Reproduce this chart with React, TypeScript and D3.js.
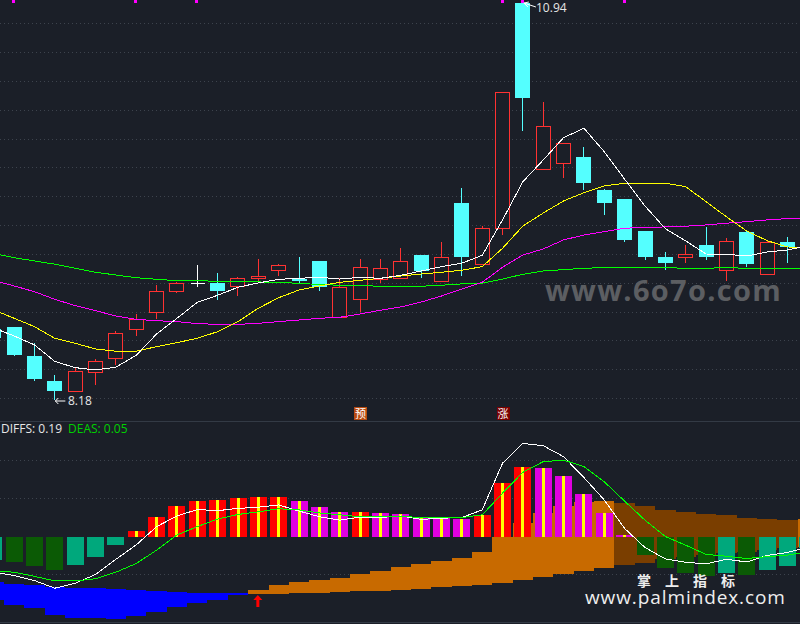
import * as d3 from 'd3';

const BG = '#1b1f28';
const FONT = '"Open Sans", "Noto Sans CJK SC", sans-serif';

// candles, one entry per session
const opens = [8.674, 8.688, 8.486, 8.312, 8.238, 8.37, 8.467, 8.669, 8.787, 8.933, 8.987, 8.994, 8.966, 9.028, 9.077, 9.023, 9.147, 8.755, 8.877, 9.019, 9.023, 9.188, 9.003, 9.55, 9.121, 9.374, 10.94, 9.784, 9.826, 9.87, 9.638, 9.575, 9.355, 9.172, 9.172, 9.258, 9.079, 9.346, 9.054, 9.277];
const closes = [8.613, 8.493, 8.326, 8.243, 8.38, 8.449, 8.644, 8.741, 8.936, 8.987, 8.987, 8.938, 9.026, 9.042, 9.117, 9.01, 8.968, 8.964, 9.103, 9.096, 9.144, 9.077, 9.172, 9.174, 9.374, 10.319, 10.282, 10.083, 9.965, 9.691, 9.552, 9.295, 9.176, 9.135, 9.193, 9.176, 9.283, 9.128, 9.277, 9.244];
const highs = [8.674, 8.688, 8.576, 8.354, 8.401, 8.465, 8.66, 8.778, 8.98, 9.001, 9.119, 9.063, 9.035, 9.16, 9.126, 9.174, 9.147, 9.026, 9.158, 9.158, 9.237, 9.188, 9.277, 9.652, 9.39, 10.319, 10.94, 10.252, 9.965, 9.939, 9.647, 9.575, 9.355, 9.209, 9.26, 9.383, 9.306, 9.355, 9.286, 9.313];
const lows = [8.61, 8.488, 8.312, 8.18, 8.238, 8.284, 8.421, 8.627, 8.743, 8.924, 8.968, 8.877, 8.903, 9.005, 9.044, 8.994, 8.938, 8.755, 8.792, 8.994, 9.023, 9.028, 9.003, 9.042, 9.121, 9.327, 10.052, 9.784, 9.726, 9.64, 9.468, 9.281, 9.156, 9.086, 9.135, 9.156, 9.01, 9.107, 9.054, 9.135];

// moving averages
const maWhite = [8.681, 8.625, 8.563, 8.448, 8.405, 8.389, 8.408, 8.491, 8.639, 8.748, 8.859, 8.908, 8.964, 8.994, 9.019, 9.026, 9.033, 9.021, 9.033, 9.026, 9.047, 9.077, 9.107, 9.131, 9.186, 9.432, 9.698, 9.849, 10.004, 10.069, 9.906, 9.715, 9.529, 9.371, 9.286, 9.195, 9.193, 9.181, 9.209, 9.223, 9.251];
const maYellow = [8.806, 8.748, 8.69, 8.609, 8.574, 8.535, 8.519, 8.519, 8.551, 8.579, 8.609, 8.655, 8.725, 8.818, 8.891, 8.945, 8.973, 8.998, 9.012, 9.026, 9.042, 9.056, 9.068, 9.082, 9.107, 9.235, 9.39, 9.48, 9.564, 9.621, 9.668, 9.687, 9.687, 9.687, 9.663, 9.559, 9.454, 9.355, 9.288, 9.244, 9.237];
const maMagenta = [9.011, 8.973, 8.933, 8.88, 8.836, 8.801, 8.764, 8.741, 8.731, 8.725, 8.711, 8.706, 8.706, 8.713, 8.725, 8.736, 8.748, 8.755, 8.778, 8.804, 8.827, 8.861, 8.903, 8.952, 8.998, 9.103, 9.188, 9.23, 9.293, 9.327, 9.35, 9.374, 9.381, 9.383, 9.388, 9.397, 9.409, 9.42, 9.432, 9.441, 9.445];
const maGreen = [9.199, 9.169, 9.147, 9.124, 9.096, 9.068, 9.049, 9.03, 9.019, 9.01, 9.01, 9.005, 9.003, 9.001, 8.996, 8.992, 8.982, 8.978, 8.975, 8.971, 8.971, 8.971, 8.978, 8.987, 8.992, 9.021, 9.054, 9.077, 9.086, 9.096, 9.1, 9.103, 9.103, 9.1, 9.096, 9.096, 9.1, 9.096, 9.093, 9.093, 9.093];

const priceGrid = [10.799, 10.597, 10.396, 10.194, 9.993, 9.797, 9.596, 9.395, 9.193, 8.994, 8.792, 8.595, 8.396, 8.194];
const topSignals = [1, 7, 10, 25, 26, 31];

// lower panel
const hist = [-0.62, -0.66, -0.77, -0.88, -0.75, -0.54, -0.22, 0.14, 0.51, 0.8, 0.93, 0.96, 1.01, 1.04, 1.04, 0.93, 0.78, 0.64, 0.64, 0.62, 0.59, 0.49, 0.48, 0.46, 0.57, 1.41, 1.83, 1.8, 1.59, 1.12, 0.62, 0.04, -0.49, -0.83, -0.96, -1.04, -0.96, -1.01, -0.88, -0.78, -0.3];
const diffs = [-0.93, -1.03, -1.16, -1.36, -1.23, -1, -0.6, -0.22, 0.26, 0.54, 0.71, 0.68, 0.74, 0.77, 0.83, 0.67, 0.52, 0.43, 0.51, 0.5, 0.54, 0.45, 0.48, 0.5, 0.7, 1.93, 2.45, 2.39, 2.1, 1.55, 0.96, 0.21, -0.29, -0.59, -0.68, -0.72, -0.6, -0.67, -0.5, -0.42, -0.28];
const deas = [-0.9, -0.94, -1.05, -1.17, -1.17, -1.11, -0.94, -0.71, -0.36, 0.04, 0.26, 0.46, 0.58, 0.65, 0.73, 0.7, 0.62, 0.57, 0.52, 0.52, 0.53, 0.5, 0.5, 0.5, 0.57, 1.14, 1.69, 1.97, 2.01, 1.84, 1.44, 0.93, 0.43, 0, -0.23, -0.47, -0.52, -0.58, -0.53, -0.49, -0.4];
const bandTop = [-1.21, -1.25, -1.28, -1.33, -1.36, -1.36, -1.38, -1.42, -1.43, -1.47, -1.48, -1.48, -1.48, -1.41, -1.28, -1.2, -1.14, -1.09, -0.99, -0.91, -0.8, -0.72, -0.64, -0.57, -0.41, -0.01, 0.36, 0.62, 0.8, 0.91, 0.93, 0.88, 0.8, 0.7, 0.64, 0.59, 0.57, 0.49, 0.46, 0.43, 0.45];
const bandBottom = [-1.68, -1.79, -1.89, -2.07, -2.15, -2.15, -2.16, -2.09, -1.99, -1.85, -1.75, -1.67, -1.54, -1.5, -1.51, -1.49, -1.49, -1.46, -1.43, -1.43, -1.41, -1.38, -1.33, -1.3, -1.28, -1.22, -1.14, -1.07, -0.99, -0.91, -0.83, -0.75, -0.7, -0.59, -0.53, -0.49, -0.44, -0.42, -0.36, -0.31, -0.28];
const bandColors = ['blue', 'orange', 'brown'];
const bandKind = hist.map((_, i) => (i < 13 ? 0 : i < 31 || i === 40 ? 1 : 2));
const lowerGrid = [2, 1, -1];

const x = d3.scaleLinear().domain([0, 40]).range([-6.2, 807.8]);
const y = d3.scaleLinear().domain([10.94, 8.18]).range([3, 400]);
const y2 = d3.scaleLinear().domain([2, -2]).range([460.5, 612.5]);

const priceLine = d3.line<number>().x((_, i) => x(i)).y(d => y(d));
const lowerLine = d3.line<number>().x((_, i) => x(i)).y(d => y2(d));

const bandFill: Record<string, string> = { blue: '#0000ff', orange: '#c86a00', brown: '#7a3e00' };

function histColor(i: number) {
  const v = hist[i];
  const prev = i > 0 ? hist[i - 1] : v;
  if (v >= 0) return v >= prev ? '#ff0000' : '#e000e0';
  return v < prev ? '#0b5a05' : '#00a87c';
}

function Candle({ i }: { i: number }) {
  const o = opens[i];
  const c = closes[i];
  const cx = Math.floor(x(i)) + 0.5;
  const top = y(Math.max(o, c));
  const bot = y(Math.min(o, c));
  if (o === c) {
    return (
      <g stroke="#ffffff" shapeRendering="crispEdges">
        <line x1={cx} x2={cx} y1={y(highs[i])} y2={y(lows[i])} />
        <line x1={cx - 7} x2={cx + 7} y1={top} y2={top} />
      </g>
    );
  }
  const up = c > o;
  const col = up ? '#ff3232' : '#54ffff';
  return (
    <g shapeRendering="crispEdges">
      <line x1={cx} x2={cx} y1={y(highs[i])} y2={top} stroke={col} />
      <line x1={cx} x2={cx} y1={bot} y2={y(lows[i])} stroke={col} />
      {up ? (
        <rect x={cx - 7} y={top} width={14} height={bot - top} fill={BG} stroke={col} />
      ) : (
        <rect x={cx - 7.5} y={top} width={15} height={bot - top} fill={col} />
      )}
    </g>
  );
}

export default function App() {
  const step = x(1) - x(0);
  return (
    <svg width={800} height={624} viewBox="0 0 800 624" style={{ position: 'fixed', left: 0, top: 0, display: 'block', background: BG }}>
      {/* grid */}
      <g stroke="#3d434d" strokeDasharray="1,3" shapeRendering="crispEdges">
        {priceGrid.map(v => (
          <line key={v} x1={0} x2={800} y1={Math.round(y(v)) + 0.5} y2={Math.round(y(v)) + 0.5} />
        ))}
        {lowerGrid.map(v => (
          <line key={v} x1={0} x2={800} y1={Math.round(y2(v)) - 0.5} y2={Math.round(y2(v)) - 0.5} />
        ))}
      </g>
      <line x1={0} x2={800} y1={421.5} y2={421.5} stroke="#333a45" />
      <line x1={0} x2={800} y1={622.5} y2={622.5} stroke="#333a45" />

      {topSignals.map(i => (
        <rect key={i} x={Math.round(x(i) - 2)} y={0} width={3} height={3} fill="#ff00ff" />
      ))}

      {/* candles */}
      {opens.map((_, i) => (
        <Candle key={i} i={i} />
      ))}

      {/* averages */}
      <g fill="none" strokeWidth={1} shapeRendering="crispEdges">
        <path d={priceLine(maGreen) ?? ''} stroke="#00ff00" />
        <path d={priceLine(maMagenta) ?? ''} stroke="#ff00ff" />
        <path d={priceLine(maYellow) ?? ''} stroke="#ffff00" />
        <path d={priceLine(maWhite) ?? ''} stroke="#ffffff" />
      </g>

      {/* high / low labels */}
      <g stroke="#ffffff" fill="none">
        <path d={`M${x(26) + 1},${y(10.94)} l5,-1 m-5,1 l4,4 m-4,-4 l12,4`} />
        <path d={`M${x(3) + 0.5},${y(8.18) + 1} h10 m-10,0 l3,-3 m-3,3 l3,3`} />
      </g>
      <text x={536} y={12} fontFamily={FONT} fontSize={12} fill="#e6e6e6">10.94</text>
      <text x={68} y={405} fontFamily={FONT} fontSize={12} fill="#e6e6e6">8.18</text>

      {/* badges */}
      <rect x={Math.round(x(18)) - 6} y={407} width={13} height={13} fill="#b84a10" />
      <text x={x(18) + 0.5} y={418} textAnchor="middle" fontFamily={FONT} fontSize={11} fill="#ffffff">预</text>
      <rect x={Math.round(x(25)) - 6} y={407} width={13} height={13} fill="#7a0000" />
      <text x={x(25) + 0.5} y={418} textAnchor="middle" fontFamily={FONT} fontSize={11} fill="#ffffff">涨</text>

      {/* lower panel bands */}
      <g shapeRendering="crispEdges">
        {bandTop.map((v, i) => (
          <rect
            key={i}
            x={x(i) - step / 2}
            y={y2(v)}
            width={step}
            height={y2(bandBottom[i]) - y2(v)}
            fill={bandFill[bandColors[bandKind[i]]]}
          />
        ))}
        {hist.map((v, i) => (
          <g key={i}>
            <rect
              x={x(i) - 8.5}
              y={y2(Math.max(v, 0))}
              width={17}
              height={Math.abs(y2(v) - y2(0))}
              fill={histColor(i)}
            />
            {v > 0 && (
              <rect x={x(i) - 1.5} y={y2(v)} width={3} height={y2(0) - y2(v)} fill="#ffff00" />
            )}
          </g>
        ))}
      </g>
      <g fill="none" strokeWidth={1} shapeRendering="crispEdges">
        <path d={lowerLine(diffs) ?? ''} stroke="#ffffff" />
        <path d={lowerLine(deas) ?? ''} stroke="#00ff00" />
      </g>
      <path d={`M${x(13) - 0.5},595 l-4.5,5 h3 v7 h3 v-7 h3 z`} fill="#ff0000" />

      <text x={1} y={433} fontFamily={FONT} fontSize={12} fill="#e6e6e6">DIFFS: 0.19</text>
      <text x={68} y={433} fontFamily={FONT} fontSize={12} fill="#00d000">DEAS: 0.05</text>

      {/* site marks */}
      <text x={545} y={301} fontFamily={FONT} fontSize={29} fontWeight={700} letterSpacing={1.3} fill="#5c5e62">www.6o7o.com</text>
      <text x={637} y={586} fontFamily={FONT} fontSize={14} fontWeight={700} fill="#eeeeee" letterSpacing={14}>掌上指标</text>
      <text x={585} y={604} fontFamily={FONT} fontSize={19} letterSpacing={0.9} fill="#eeeeee">www.palmindex.com</text>
    </svg>
  );
}
